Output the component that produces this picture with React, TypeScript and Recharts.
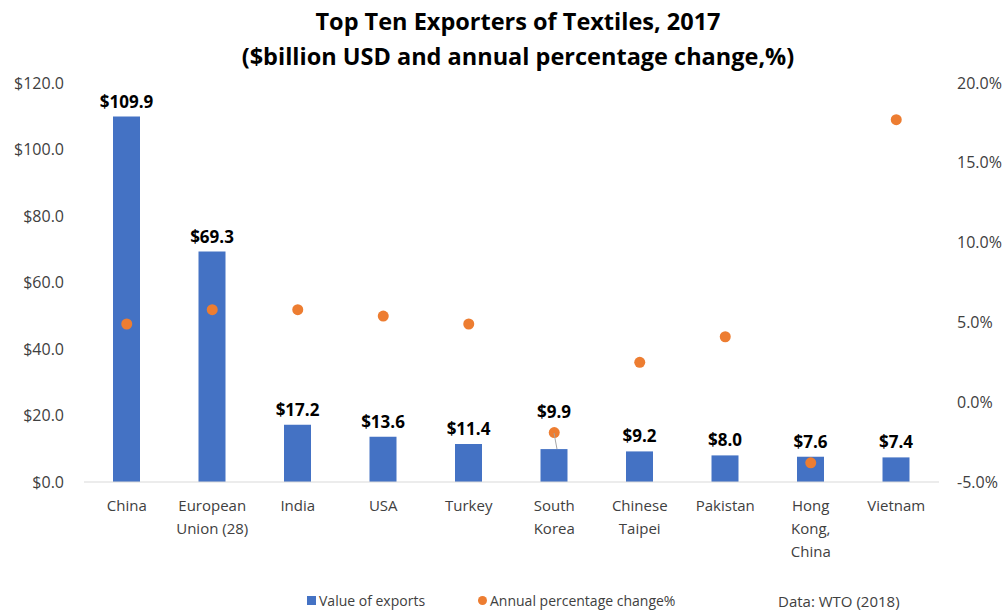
import { ComposedChart, Bar, Scatter, XAxis, YAxis, LabelList, Legend } from "recharts";

const countries = ["China", "European\nUnion (28)", "India", "USA", "Turkey", "South\nKorea", "Chinese\nTaipei", "Pakistan", "Hong\nKong,\nChina", "Vietnam"];
const exportValues = [109.9, 69.3, 17.2, 13.6, 11.4, 9.9, 9.2, 8.0, 7.6, 7.4];
const pctChange = [4.9, 5.8, 5.8, 5.4, 4.9, -1.9, 2.5, 4.1, -3.8, 17.7];
const leftTicks = [0, 20, 40, 60, 80, 100, 120];
const rightTicks = [-5, 0, 5, 10, 15, 20];

const data = countries.map((c, i) => ({ name: c, value: exportValues[i], pct: pctChange[i] }));

const FONT = "'Open Sans', 'Liberation Sans', sans-serif";
const BLUE = "#4472C4";
const ORANGE = "#ED7D31";

const CategoryTick = (props: any) => {
  const { x, y, payload } = props;
  const lines = String(payload.value).split("\n");
  return (
    <text x={x} y={y} textAnchor="middle" fill="#404040" fontSize={15} fontFamily={FONT}>
      {lines.map((l, i) => (
        <tspan key={i} x={x} dy={i === 0 ? 21 : 23}>{l}</tspan>
      ))}
    </text>
  );
};

// value label above each bar; the South Korea one sits higher, clear of its dot (with a leader line)
const ValueLabel = (props: any) => {
  const { x, y, width, value, index } = props;
  const lift = index === 5 ? 22 : 0;
  const cx = x + width / 2;
  return (
    <g>
      {lift > 0 && <line x1={cx} y1={y - 16} x2={cx + 3} y2={y} stroke="#a6a6a6" strokeWidth={1} />}
      <text x={cx} y={y - 9 - lift} textAnchor="middle" fill="#000" fontWeight="bold" fontSize={17} fontFamily={FONT}>
        {"$" + Number(value).toFixed(1)}
      </text>
    </g>
  );
};

const Dot = (props: any) => <circle cx={props.cx} cy={props.cy} r={5.5} fill={ORANGE} />;

const LegendBox = () => (
  <div style={{ position: "relative", height: 20, fontFamily: FONT, fontSize: 14, color: "#404040" }}>
    <span style={{ position: "absolute", left: 307, top: 0, display: "flex", alignItems: "center" }}>
      <span style={{ width: 9, height: 9, background: BLUE, marginRight: 3 }} />Value of exports
    </span>
    <span style={{ position: "absolute", left: 478, top: 0, display: "flex", alignItems: "center" }}>
      <span style={{ width: 9, height: 9, borderRadius: 5, background: ORANGE, marginRight: 3 }} />Annual percentage change%
    </span>
    <span style={{ position: "absolute", left: 778, top: 0, fontSize: 15 }}>Data: WTO (2018)</span>
  </div>
);

export default function App() {
  return (
    <div style={{ position: "absolute", left: 0, top: 0, width: 1004, height: 615, background: "#fff" }}>
      <div style={{ position: "absolute", left: 0, top: 4, width: 1036, textAlign: "center", fontFamily: FONT, fontWeight: "bold", fontSize: 23.5, lineHeight: "35px", color: "#000" }}>
        Top Ten Exporters of Textiles, 2017<br />($billion USD and annual percentage change,%)
      </div>
      <ComposedChart width={1004} height={615} data={data} margin={{ top: 83, right: 0, bottom: 0, left: 0 }}>
        <XAxis dataKey="name" yAxisId="left" tick={<CategoryTick />} tickLine={false} axisLine={{ stroke: "#d9d9d9" }} interval={0} height={113} />
        <YAxis yAxisId="left" width={84} domain={[0, 120]} ticks={leftTicks} tickFormatter={(v) => "$" + v.toFixed(1)} axisLine={false} tickLine={false} tickSize={0} tickMargin={20} tick={{ fill: "#404040", fontSize: 16, fontFamily: FONT }} />
        <YAxis yAxisId="right" orientation="right" width={65} domain={[-5, 20]} ticks={rightTicks} tickFormatter={(v) => v.toFixed(1) + "%"} axisLine={false} tickLine={false} tickSize={0} tickMargin={18} tick={{ fill: "#404040", fontSize: 16, fontFamily: FONT, textAnchor: "start" }} />
        <Legend verticalAlign="bottom" content={() => <LegendBox />} wrapperStyle={{ bottom: 4, left: 0, width: 1004 }} />
        <Bar yAxisId="left" dataKey="value" fill={BLUE} barSize={27} isAnimationActive={false}>
          <LabelList dataKey="value" content={<ValueLabel />} />
        </Bar>
        <Scatter yAxisId="right" dataKey="pct" fill={ORANGE} shape={<Dot />} isAnimationActive={false} />
      </ComposedChart>
    </div>
  );
}
